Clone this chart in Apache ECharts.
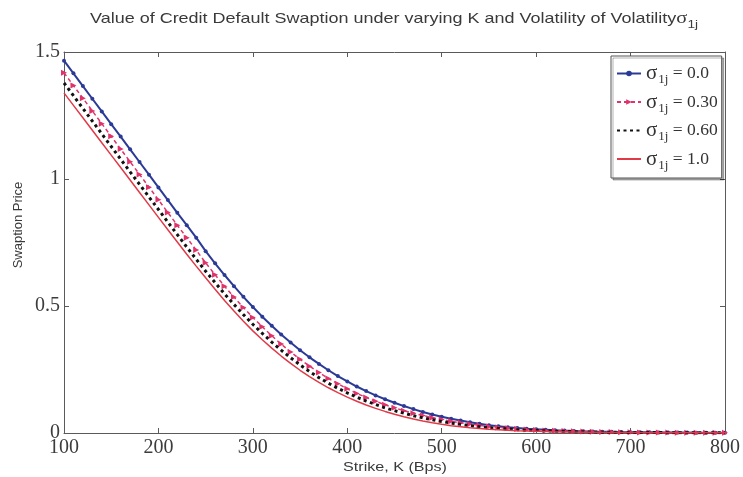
<!DOCTYPE html>
<html>
<head>
<meta charset="utf-8">
<script src="https://cdn.jsdelivr.net/npm/echarts@6/dist/echarts.min.js"></script>
<style>
  html, body { margin: 0; padding: 0; background: #fff; }
  #chart { width: 743px; height: 477px; }
</style>
</head>
<body>
<div id="chart"></div>
<script>
// Strike levels in basis points
const strikes = [
  100,110,120,130,140,150,160,170,180,190,
  200,210,220,230,240,250,260,270,280,290,
  300,310,320,330,340,350,360,370,380,390,
  400,410,420,430,440,450,460,470,480,490,
  500,510,520,530,540,550,560,570,580,590,
  600,610,620,630,640,650,660,670,680,690,
  700,710,720,730,740,750,760,770,780,790,
  800
];

// Swaption price for each volatility-of-volatility level
const price00 = [
  1.466,1.416,1.366,1.316,1.266,1.216,1.167,1.117,1.067,1.017,
  0.967,0.917,0.867,0.818,0.769,0.716,0.668,0.622,0.578,0.536,
  0.496,0.458,0.422,0.388,0.356,0.326,0.298,0.272,0.247,0.224,
  0.203,0.183,0.165,0.148,0.133,0.119,0.106,0.094,0.083,0.073,
  0.064,0.056,0.049,0.042,0.036,0.031,0.027,0.023,0.020,0.017,
  0.015,0.013,0.011,0.0095,0.0082,0.007,0.006,0.0052,0.0045,0.0039,
  0.0034,0.003,0.0026,0.0023,0.002,0.0018,0.0016,0.0014,0.0012,0.0011,
  0.001
];
const price030 = [
  1.418,1.368,1.318,1.268,1.218,1.168,1.118,1.068,1.018,0.968,
  0.918,0.868,0.818,0.769,0.720,0.670,0.623,0.578,0.535,0.494,
  0.455,0.418,0.383,0.350,0.319,0.290,0.263,0.238,0.215,0.194,
  0.174,0.156,0.140,0.125,0.111,0.099,0.088,0.078,0.069,0.060,
  0.053,0.046,0.040,0.035,0.030,0.026,0.022,0.019,0.016,0.014,
  0.012,0.010,0.0088,0.0076,0.0066,0.0057,0.0049,0.0042,0.0036,0.0031,
  0.0027,0.0024,0.0021,0.0018,0.0016,0.0014,0.0012,0.0011,0.001,0.0009,
  0.0008
];
const price060 = [
  1.378,1.328,1.278,1.228,1.178,1.128,1.078,1.028,0.979,0.929,
  0.880,0.830,0.781,0.732,0.684,0.637,0.592,0.548,0.506,0.466,
  0.428,0.392,0.358,0.326,0.296,0.268,0.242,0.218,0.196,0.176,
  0.158,0.141,0.126,0.112,0.099,0.088,0.078,0.068,0.060,0.052,
  0.045,0.039,0.034,0.029,0.025,0.021,0.018,0.016,0.013,0.011,
  0.0098,0.0084,0.0072,0.0062,0.0053,0.0046,0.004,0.0034,0.003,0.0026,
  0.0023,0.002,0.0018,0.0016,0.0014,0.0012,0.0011,0.001,0.0009,0.0008,
  0.0007
];
const price10 = [
  1.339,1.290,1.241,1.192,1.143,1.094,1.045,0.996,0.947,0.898,
  0.849,0.800,0.752,0.704,0.657,0.611,0.566,0.522,0.480,0.440,
  0.402,0.367,0.334,0.303,0.274,0.247,0.222,0.199,0.178,0.159,
  0.141,0.125,0.110,0.097,0.085,0.074,0.064,0.055,0.047,0.040,
  0.034,0.029,0.025,0.021,0.018,0.015,0.013,0.011,0.009,0.008,
  0.007,0.006,0.005,0.0044,0.0038,0.0033,0.0029,0.0025,0.0022,0.0019,
  0.0017,0.0015,0.0013,0.0012,0.0011,0.001,0.0009,0.0008,0.0007,0.0006,
  0.0006
];

const seriesNames = ['0.0', '0.30', '0.60', '1.0'];
const xTicks = { min: 100, max: 800, step: 100 };
const yTicks = { min: 0, max: 1.5, step: 0.5 };

const pair = (ys) => strikes.map((k, i) => [k, ys[i]]);

const serif = 'Liberation Serif';
const sans = 'Liberation Sans';
const axisGray = '#5a5a5a';
const labelGray = '#3c3c3c';
const textGray = '#3a3a3a';
const wide = 1.24; // horizontal stretch of the sans-serif captions

const chart = echarts.init(document.getElementById('chart'), null, { renderer: 'canvas' });

const baseX = {
  type: 'value', min: xTicks.min, max: xTicks.max, interval: xTicks.step,
  axisLine: { show: true, onZero: false, lineStyle: { color: axisGray, width: 1 } },
  axisTick: { show: true, inside: true, length: 5, lineStyle: { color: axisGray } },
  splitLine: { show: false }
};
const baseY = {
  type: 'value', min: yTicks.min, max: yTicks.max, interval: yTicks.step,
  axisLine: { show: true, onZero: false, lineStyle: { color: axisGray, width: 1 } },
  axisTick: { show: true, inside: true, length: 5, lineStyle: { color: axisGray } },
  splitLine: { show: false }
};

chart.setOption({
  backgroundColor: '#fff',
  animation: false,
  grid: { left: 64, right: 16, top: 52, bottom: 44, containLabel: false },
  xAxis: [
    Object.assign({}, baseX, {
      position: 'bottom',
      axisLabel: { fontFamily: serif, fontSize: 20, color: labelGray, margin: 5 }
    }),
    Object.assign({}, baseX, { position: 'top', axisLabel: { show: false } })
  ],
  yAxis: [
    Object.assign({}, baseY, {
      position: 'left',
      axisLabel: { fontFamily: serif, fontSize: 20, color: labelGray, margin: 4 }
    }),
    Object.assign({}, baseY, { position: 'right', axisLabel: { show: false } })
  ],
  legend: {
    orient: 'vertical',
    left: 611, top: 56,
    padding: [7, 4, 6, 5],
    itemGap: 5,
    itemWidth: 24,
    itemHeight: 7,
    backgroundColor: '#fff',
    borderColor: '#555',
    borderWidth: 1,
    shadowColor: 'rgba(0,0,0,0.3)',
    shadowOffsetX: 2,
    shadowOffsetY: 2,
    shadowBlur: 0,
    data: [
      { name: seriesNames[0] },
      { name: seriesNames[1] },
      { name: seriesNames[2], itemStyle: { opacity: 0 } },
      { name: seriesNames[3], itemStyle: { opacity: 0 } }
    ],
    formatter: (name) => '{g|σ}{sub|1j}{t| = ' + name + '}',
    textStyle: {
      color: '#333',
      rich: {
        g: { fontFamily: serif, fontSize: 21, lineHeight: 22 },
        sub: { fontFamily: serif, fontSize: 13, padding: [13, 0, 0, 1] },
        t: { fontFamily: serif, fontSize: 17.5 }
      }
    }
  },
  graphic: [
    {
      type: 'text', x: 394, y: 19, scaleX: wide,
      style: {
        text: '{m|Value of Credit Default Swaption under varying K and Volatility of Volatility}{g|σ}{sub|1j}',
        align: 'center', verticalAlign: 'middle',
        rich: {
          m: { fontFamily: sans, fontSize: 14.5, fill: textGray },
          g: { fontFamily: serif, fontSize: 16.5, fill: textGray },
          sub: { fontFamily: sans, fontSize: 11, fill: textGray, padding: [11, 0, 0, 0] }
        }
      }
    },
    {
      type: 'text', x: 18, y: 225, rotation: Math.PI / 2,
      style: {
        text: 'Swaption Price', fontFamily: sans, fontSize: 13, fill: textGray,
        align: 'center', verticalAlign: 'middle'
      }
    },
    {
      type: 'text', x: 395, y: 467, scaleX: wide,
      style: {
        text: 'Strike, K (Bps)', fontFamily: sans, fontSize: 13, fill: textGray,
        align: 'center', verticalAlign: 'middle'
      }
    }
  ],
  series: [
    {
      name: seriesNames[0], type: 'line', data: pair(price00),
      symbol: 'circle', symbolSize: 4, showSymbol: true,
      lineStyle: { color: '#2b3a96', width: 2 },
      itemStyle: { color: '#2b3a96' }, z: 2
    },
    {
      name: seriesNames[1], type: 'line', data: pair(price030),
      symbol: 'triangle', symbolSize: 6, symbolRotate: -90, showSymbol: true,
      lineStyle: { color: '#e0336b', width: 1.5, type: [4, 3] },
      itemStyle: { color: '#e0336b' }, z: 3
    },
    {
      name: seriesNames[2], type: 'line', data: pair(price060),
      symbol: 'none',
      lineStyle: { color: '#111', width: 3, type: [3, 3.5] },
      itemStyle: { color: '#111' }, z: 4
    },
    {
      name: seriesNames[3], type: 'line', data: pair(price10),
      symbol: 'none',
      lineStyle: { color: '#e03a48', width: 1.5 },
      itemStyle: { color: '#e03a48' }, z: 5
    }
  ]
});
</script>
</body>
</html>
